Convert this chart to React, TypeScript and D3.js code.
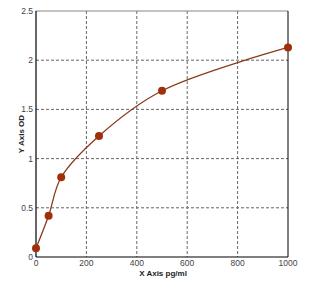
import React from "react";
import * as d3 from "d3";

const xValues = [0, 50, 100, 250, 500, 1000];
const yValues = [0.09, 0.42, 0.81, 1.23, 1.69, 2.13];
const xTicks = [0, 200, 400, 600, 800, 1000];
const yTicks = [0, 0.5, 1, 1.5, 2, 2.5];
const yTickLabels = ["0", "0.5", "1", "1.5", "2", "2.5"];

export default function App() {
  const W = 320, H = 291;
  const L = 36, R = 288, T = 11, B = 257;
  const x = d3.scaleLinear().domain([0, 1000]).range([L, R]);
  const y = d3.scaleLinear().domain([0, 2.5]).range([B, T]);
  const pts = xValues.map((v, i) => [v, yValues[i]] as [number, number]);
  const line = d3
    .line<[number, number]>()
    .x((d) => x(d[0]))
    .y((d) => y(d[1]))
    .curve(d3.curveCatmullRom.alpha(0.5));
  const font = "Arial, 'Liberation Sans', sans-serif";
  return (
    <svg
      width={W}
      height={H}
      style={{ position: "absolute", left: 0, top: 0, background: "#fff" }}
    >
      <rect x={0} y={0} width={W} height={H} fill="#fff" />
      {xTicks.slice(1, -1).map((t) => (
        <line
          key={"gx" + t}
          x1={x(t)}
          x2={x(t)}
          y1={T}
          y2={B}
          stroke="#666"
          strokeWidth={1}
          strokeDasharray="3,2"
        />
      ))}
      {yTicks.slice(1, -1).map((t) => (
        <line
          key={"gy" + t}
          x1={L}
          x2={R}
          y1={y(t)}
          y2={y(t)}
          stroke="#666"
          strokeWidth={1}
          strokeDasharray="3,2"
        />
      ))}
      <line x1={L} x2={R} y1={T} y2={T} stroke="#888" strokeWidth={1} />
      <line x1={R} x2={R} y1={T} y2={B} stroke="#000" strokeWidth={1} />
      <line x1={L} x2={R} y1={B} y2={B} stroke="#000" strokeWidth={1.2} />
      <line x1={L} x2={L} y1={T} y2={B} stroke="#000" strokeWidth={1.2} />
      {xTicks.map((t) => (
        <text
          key={"tx" + t}
          x={x(t)}
          y={266}
          fontSize={8.5}
          fontFamily={font}
          fill="#444"
          textAnchor="middle"
        >
          {t}
        </text>
      ))}
      {yTicks.map((t, i) => (
        <text
          key={"ty" + t}
          x={33}
          y={y(t) + 3}
          fontSize={8.5}
          fontFamily={font}
          fill="#444"
          textAnchor="end"
        >
          {yTickLabels[i]}
        </text>
      ))}
      <text
        x={163}
        y={276}
        fontSize={8}
        fontWeight="bold"
        fontFamily={font}
        fill="#222"
        textAnchor="middle"
      >
        X Axis pg/ml
      </text>
      <text
        transform={`translate(${24},${(T + B) / 2}) rotate(-90)`}
        fontSize={8}
        fontWeight="bold"
        fontFamily={font}
        fill="#222"
        textAnchor="middle"
      >
        Y Axis OD
      </text>
      <path d={line(pts) || ""} fill="none" stroke="#8a3a1c" strokeWidth={1.3} />
      {pts.map((p, i) => (
        <circle key={"p" + i} cx={x(p[0])} cy={y(p[1])} r={4} fill="#a0300c" />
      ))}
    </svg>
  );
}
